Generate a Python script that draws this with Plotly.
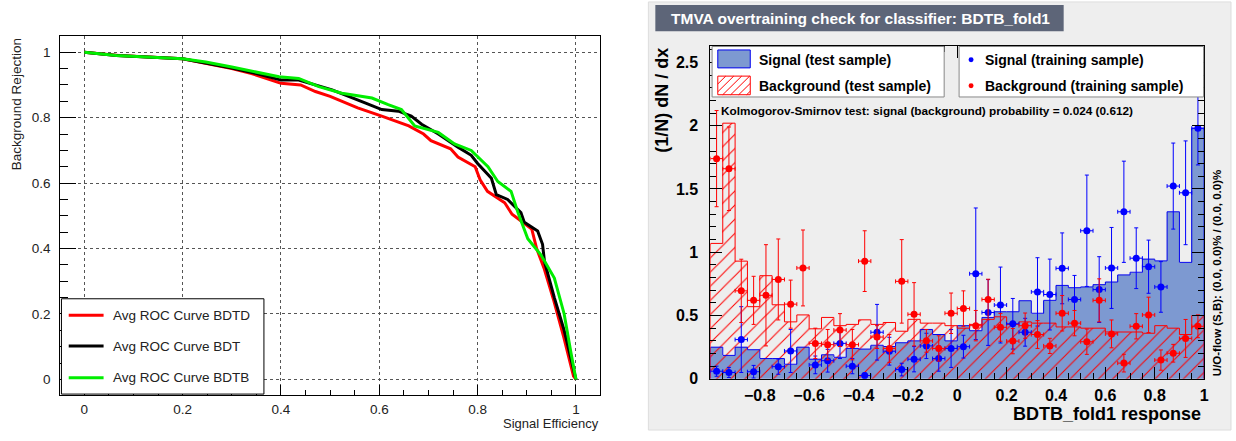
import plotly.graph_objects as go
import numpy as np

W, H = 1236, 441
def px(x): return x / W
def py(y): return 1 - y / H

FONT = "Liberation Sans"

# ---------------- ROC curves (left panel) ----------------
bdtd_eff = [0, 0.07, 0.2, 0.25, 0.3, 0.34, 0.4, 0.44, 0.47, 0.50, 0.556, 0.605, 0.66, 0.69, 0.705,
            0.745, 0.76, 0.795, 0.805, 0.82, 0.855, 0.87, 0.91, 0.92, 0.935, 0.955, 0.975, 0.995, 1.0]
bdtd_rej = [1, 0.99, 0.98, 0.965, 0.95, 0.935, 0.905, 0.9, 0.88, 0.865, 0.83, 0.805, 0.775, 0.75, 0.73,
            0.705, 0.68, 0.65, 0.61, 0.575, 0.54, 0.505, 0.46, 0.40, 0.34, 0.24, 0.13, 0.01, 0]

bdt_eff = [0, 0.065, 0.2, 0.25, 0.3, 0.35, 0.4, 0.436, 0.504, 0.571, 0.605, 0.639, 0.665, 0.686, 0.72,
           0.76, 0.787, 0.80, 0.828, 0.838, 0.861, 0.888, 0.895, 0.922, 0.932, 0.936, 0.956, 0.976, 0.996, 1.0]
bdt_rej = [1, 0.99, 0.98, 0.967, 0.952, 0.935, 0.915, 0.915, 0.885, 0.845, 0.825, 0.82, 0.805, 0.78, 0.75,
           0.71, 0.685, 0.66, 0.615, 0.565, 0.55, 0.51, 0.48, 0.454, 0.413, 0.36, 0.25, 0.15, 0.02, 0]

bdtb_eff = [0, 0.065, 0.2, 0.247, 0.30, 0.348, 0.396, 0.436, 0.477, 0.524, 0.585, 0.618, 0.645, 0.672,
            0.72, 0.753, 0.787, 0.821, 0.841, 0.868, 0.882, 0.902, 0.929, 0.956, 0.976, 0.99, 1.0]
bdtb_rej = [1, 0.99, 0.98, 0.97, 0.955, 0.94, 0.925, 0.92, 0.895, 0.875, 0.86, 0.84, 0.825, 0.775,
            0.755, 0.72, 0.70, 0.65, 0.605, 0.575, 0.51, 0.43, 0.38, 0.31, 0.20, 0.08, 0]

roc_names = ["Avg ROC Curve BDTD", "Avg ROC Curve BDT", "Avg ROC Curve BDTB"]
roc_colors = ["#ff0000", "#000000", "#00ee00"]

# ---------------- Overtraining histograms (right panel) ----------------
bin_edges = [round(-1 + 0.05 * i, 3) for i in range(41)]
sig_test = [0.25, 0.185, 0.25, 0.23, 0.16, 0.16, 0.115, 0.25, 0.155, 0.19,
            0.17, 0.24, 0.235, 0.265, 0.255, 0.285, 0.30, 0.39, 0.35, 0.30,
            0.42, 0.38, 0.485, 0.53, 0.53, 0.617, 0.518, 0.62, 0.738, 0.72,
            0.726, 0.744, 0.765, 0.821, 0.842, 0.946, 0.932, 1.32, 0.92, 1.98]
bkg_test = [1.07, 2.02, 0.93, 0.57, 0.815, 0.585, 0.45, 0.505, 0.395, 0.485,
            0.42, 0.43, 0.466, 0.43, 0.445, 0.376, 0.47, 0.44, 0.44, 0.42,
            0.40, 0.43, 0.47, 0.49, 0.43, 0.45, 0.44, 0.44, 0.41, 0.41,
            0.40, 0.40, 0.37, 0.37, 0.37, 0.36, 0.42, 0.40, 0.35, 0.50]
sig_train = [0.06, 0.05, 0.31, 0.056, None, 0.096, 0.22, None, 0.11, 0.143,
             0.28, 0.10, 0.026, 0.368, 0.218, 0.073, 0.155, 0.26, 0.16, 0.24,
             0.254, 0.83, 0.524, 0.583, 0.435, 0.368, 0.687, 0.666, 0.873, 0.627,
             1.17, 0.705, 0.876, 1.32, 0.953, 0.886, 0.726, 1.523, 1.47, 1.98]
sig_train_err = [0.04, 0.04, 0.26, 0.05, 0, 0.06, 0.17, 0, 0.07, 0.09,
                 0.12, 0.06, 0.02, 0.22, 0.11, 0.05, 0.10, 0.10, 0.10, 0.15,
                 0.09, 0.52, 0.26, 0.30, 0.20, 0.11, 0.27, 0.28, 0.28, 0.19,
                 0.44, 0.26, 0.32, 0.40, 0.24, 0.21, 0.20, 0.34, 0.41, 0.29]
bkg_train = [1.74, 1.66, 0.695, 0.62, 0.66, 0.785, 0.59, 0.876, 0.28, 0.27,
             0.385, 0.27, 0.93, 0.33, 0.24, 0.77, 0.51, 0.30, 0.24, 0.518,
             0.555, 0.42, 0.627, 0.407, 0.298, 0.42, 0.35, 0.26, 0.518, 0.44,
             0.293, 0.62, 0.355, 0.124, 0.415, 0.505, 0.148, 0.202, 0.319, 0.415]
bkg_train_err = [0.38, 0.33, 0.25, 0.19, 0.40, 0.32, 0.19, 0.30, 0.12, 0.12,
                 0.13, 0.12, 0.24, 0.09, 0.11, 0.33, 0.25, 0.09, 0.10, 0.16,
                 0.14, 0.12, 0.16, 0.11, 0.10, 0.10, 0.11, 0.06, 0.14, 0.10,
                 0.10, 0.17, 0.11, 0.07, 0.10, 0.14, 0.08, 0.07, 0.15, 0.09]

x_tick_vals = [-0.8, -0.6, -0.4, -0.2, 0, 0.2, 0.4, 0.6, 0.8, 1]
x_tick_text = ["\u22120.8", "\u22120.6", "\u22120.4", "\u22120.2", "0", "0.2", "0.4", "0.6", "0.8", "1"]
y_tick_vals = [0, 0.5, 1, 1.5, 2, 2.5]
y_tick_text = ["0", "0.5", "1", "1.5", "2", "2.5"]

edges = np.array(bin_edges)
centers = (edges[:-1] + edges[1:]) / 2
widths = np.diff(edges)

SIG_FILL = "#7d99d1"
SIG_LINE = "#0000ee"
BKG = "#ff0000"

fig = go.Figure()

# ROC traces
for xs, ys, c in [(bdtd_eff, bdtd_rej, roc_colors[0]), (bdt_eff, bdt_rej, roc_colors[1]),
                  (bdtb_eff, bdtb_rej, roc_colors[2])]:
    fig.add_trace(go.Scatter(x=xs, y=ys, mode="lines", line=dict(color=c, width=3),
                             xaxis="x", yaxis="y", showlegend=False, hoverinfo="skip"))

# Signal test histogram
fig.add_trace(go.Bar(x=centers, y=sig_test, width=widths, marker=dict(color=SIG_FILL, line=dict(width=0)),
                     xaxis="x2", yaxis="y2", showlegend=False))
step_x = [bin_edges[0]] + bin_edges[:-1] + [bin_edges[-1]]
fig.add_trace(go.Scatter(x=step_x, y=[0] + sig_test + [0], mode="lines", line=dict(color=SIG_LINE, width=1, shape="hv"),
                         xaxis="x2", yaxis="y2", showlegend=False))
# Background test histogram (hatched)
fig.add_trace(go.Bar(x=centers, y=bkg_test, width=widths,
                     marker=dict(color="rgba(0,0,0,0)", line=dict(width=0),
                                 pattern=dict(shape="/", size=10, solidity=0.1, fgcolor=BKG,
                                              bgcolor="rgba(0,0,0,0)", fillmode="overlay", fgopacity=1)),
                     xaxis="x2", yaxis="y2", showlegend=False))
fig.add_trace(go.Scatter(x=step_x, y=[0] + bkg_test + [0], mode="lines", line=dict(color=BKG, width=1, shape="hv"),
                         xaxis="x2", yaxis="y2", showlegend=False))

# Training points
def pts(vals, errs):
    xs, ys, es = [], [], []
    for c, v, e in zip(centers, vals, errs):
        if v is None:
            continue
        xs.append(c); ys.append(v); es.append(e)
    return xs, ys, es

for vals, errs, col in [(sig_train, sig_train_err, "#0000ff"), (bkg_train, bkg_train_err, BKG)]:
    xs, ys, es = pts(vals, errs)
    fig.add_trace(go.Scatter(x=xs, y=ys, mode="markers", marker=dict(color=col, size=7),
                             error_y=dict(type="data", array=es, color=col, thickness=1, width=2),
                             error_x=dict(type="constant", value=0.025, color=col, thickness=1, width=2),
                             xaxis="x2", yaxis="y2", showlegend=False))

shapes = []
annotations = []

# right panel grey background
shapes.append(dict(type="rect", xref="paper", yref="paper", x0=px(651), x1=px(1236), y0=py(439), y1=py(2),
                   fillcolor="#eeeeee", line=dict(color="#dddddd", width=1), layer="below"))
# title box
shapes.append(dict(type="rect", xref="paper", yref="paper", x0=px(658), x1=px(1068), y0=py(32), y1=py(5),
                   fillcolor="#5d6578", line=dict(width=0), layer="above"))
annotations.append(dict(text="<b>TMVA overtraining check for classifier: BDTB_fold1</b>", x=px(672), y=py(18.5),
                        xref="paper", yref="paper", xanchor="left", yanchor="middle", showarrow=False,
                        font=dict(family=FONT, size=15.5, color="white")))

# left legend
shapes.append(dict(type="rect", xref="paper", yref="paper", x0=px(61.7), x1=px(265), y0=py(402.3), y1=py(305),
                   fillcolor="white", line=dict(color="black", width=1), layer="above"))
for i, (name, c) in enumerate(zip(roc_names, roc_colors)):
    yy = [321.7, 353.3, 385.7][i]
    shapes.append(dict(type="line", xref="paper", yref="paper", x0=px(69), x1=px(104), y0=py(yy), y1=py(yy),
                       line=dict(color=c, width=3), layer="above"))
    annotations.append(dict(text=name, x=px(111.5), y=py(yy), xref="paper", yref="paper", xanchor="left",
                            yanchor="middle", showarrow=False, font=dict(family=FONT, size=13.5, color="#222")))

# left axis titles
annotations.append(dict(text="Background Rejection", x=px(16), y=py(37), xref="paper", yref="paper",
                        xanchor="center", yanchor="top", textangle=-90, showarrow=False,
                        font=dict(family=FONT, size=13.5, color="#222")))
annotations.append(dict(text="Signal Efficiency", x=px(602), y=py(441), xref="paper", yref="paper",
                        xanchor="right", yanchor="bottom", showarrow=False, borderpad=0,
                        font=dict(family=FONT, size=13, color="#222")))

# right legends
shapes.append(dict(type="rect", xref="paper", yref="paper", x0=px(715), x1=px(948), y0=py(99), y1=py(47.5),
                   fillcolor="white", line=dict(color="#888888", width=1), layer="above"))
shapes.append(dict(type="rect", xref="paper", yref="paper", x0=px(963), x1=px(1208.5), y0=py(99), y1=py(47.5),
                   fillcolor="white", line=dict(color="#888888", width=1), layer="above"))
# signal test symbol
shapes.append(dict(type="rect", xref="paper", yref="paper", x0=px(720.7), x1=px(753.3), y0=py(69.3), y1=py(51),
                   fillcolor=SIG_FILL, line=dict(color=SIG_LINE, width=1), layer="above"))
# background test symbol (hatched)
L, R, T, B = 720.7, 753.3, 77.7, 96.7
shapes.append(dict(type="rect", xref="paper", yref="paper", x0=px(L), x1=px(R), y0=py(B), y1=py(T),
                   fillcolor="white", line=dict(color=BKG, width=1), layer="above"))
hgt = B - T
for x0 in np.arange(L - hgt, R, 8.0):
    t0 = max(0.0, L - x0)
    t1 = min(hgt, R - x0)
    if t1 > t0:
        shapes.append(dict(type="line", xref="paper", yref="paper", x0=px(x0 + t0), y0=py(B - t0),
                           x1=px(x0 + t1), y1=py(B - t1), line=dict(color=BKG, width=1), layer="above"))

leg_font = dict(family=FONT, size=14, color="black")
annotations.append(dict(text="<b>Signal (test sample)</b>", x=px(760), y=py(61), xref="paper", yref="paper",
                        xanchor="left", yanchor="middle", showarrow=False, font=leg_font))
annotations.append(dict(text="<b>Background (test sample)</b>", x=px(760), y=py(87.5), xref="paper", yref="paper",
                        xanchor="left", yanchor="middle", showarrow=False, font=leg_font))
annotations.append(dict(text="<b>Signal (training sample)</b>", x=px(987), y=py(61), xref="paper", yref="paper",
                        xanchor="left", yanchor="middle", showarrow=False, font=leg_font))
annotations.append(dict(text="<b>Background (training sample)</b>", x=px(987), y=py(87.5), xref="paper", yref="paper",
                        xanchor="left", yanchor="middle", showarrow=False, font=leg_font))
for yy, c in [(61, "#0000ff"), (87.5, BKG)]:
    shapes.append(dict(type="circle", xref="paper", yref="paper", x0=px(972.5), x1=px(977.5), y0=py(yy + 2.5),
                       y1=py(yy - 2.5), fillcolor=c, line=dict(color=c, width=0), layer="above"))

annotations.append(dict(text="<b>Kolmogorov-Smirnov test: signal (background) probability = 0.024 (0.612)</b>",
                        x=px(722), y=py(113), xref="paper", yref="paper", xanchor="left", yanchor="middle",
                        showarrow=False, font=dict(family=FONT, size=11.8, color="black")))
annotations.append(dict(text="<b>(1/N) dN / dx</b>", x=px(664), y=py(47), xref="paper", yref="paper",
                        xanchor="center", yanchor="top", textangle=-90, showarrow=False,
                        font=dict(family=FONT, size=18, color="black")))
annotations.append(dict(text="<b>BDTB_fold1 response</b>", x=px(1208), y=py(423), xref="paper", yref="paper",
                        xanchor="right", yanchor="middle", showarrow=False,
                        font=dict(family=FONT, size=18, color="black")))
annotations.append(dict(text="<b>U/O-flow (S,B): (0.0, 0.0)% / (0.0, 0.0)%</b>", x=px(1222), y=py(386),
                        xref="paper", yref="paper", xanchor="center", yanchor="bottom", textangle=-90,
                        showarrow=False, font=dict(family=FONT, size=11.5, color="black")))

tick_black = dict(family=FONT, size=13.5, color="#222")
tick_bold = dict(family=FONT, size=16, color="black", weight="bold")

fig.update_layout(
    width=W, height=H, margin=dict(l=0, r=0, t=0, b=0),
    paper_bgcolor="white", plot_bgcolor="white",
    barmode="overlay", bargap=0, showlegend=False,
    shapes=shapes, annotations=annotations,
    xaxis=dict(domain=[px(60.5), px(602)], range=[-0.049, 1.048], anchor="y",
               tickmode="array", tickvals=[0, 0.2, 0.4, 0.6, 0.8, 1], ticktext=["0", "0.2", "0.4", "0.6", "0.8", "1"],
               ticks="inside", ticklen=10, tickcolor="black", tickwidth=1,
               minor=dict(tickmode="linear", tick0=0, dtick=0.05, ticks="inside", ticklen=5, tickcolor="black", showgrid=False),
               showgrid=True, gridcolor="#555555", griddash="dot", gridwidth=1, zeroline=False,
               showline=True, mirror=True, linecolor="black", linewidth=1, tickfont=tick_black,
               ticklabelstandoff=2),
    yaxis=dict(domain=[py(403), py(37)], range=[-0.047, 1.049], anchor="x",
               tickmode="array", tickvals=[0, 0.2, 0.4, 0.6, 0.8, 1], ticktext=["0", "0.2", "0.4", "0.6", "0.8", "1"],
               ticks="inside", ticklen=16, tickcolor="black", tickwidth=1,
               minor=dict(tickmode="linear", tick0=0, dtick=0.05, ticks="inside", ticklen=8, tickcolor="black", showgrid=False),
               showgrid=True, gridcolor="#555555", griddash="dot", gridwidth=1, zeroline=False,
               showline=True, mirror=True, linecolor="black", linewidth=1, tickfont=tick_black,
               ticklabelstandoff=6),
    xaxis2=dict(domain=[px(713.3), px(1209)], range=[-1, 1], anchor="y2",
                tickmode="array", tickvals=x_tick_vals, ticktext=x_tick_text,
                ticks="inside", ticklen=12, tickcolor="black", tickwidth=1,
                minor=dict(tickmode="linear", tick0=0, dtick=0.05, ticks="inside", ticklen=6, tickcolor="black", showgrid=False),
                showgrid=False, zeroline=False, showline=True, mirror="allticks", linecolor="black", linewidth=1,
                tickfont=tick_bold, ticklabelstandoff=2),
    yaxis2=dict(domain=[py(386.7), py(46.7)], range=[0, 2.632], anchor="x2",
                tickmode="array", tickvals=y_tick_vals, ticktext=y_tick_text,
                ticks="inside", ticklen=12, tickcolor="black", tickwidth=1,
                minor=dict(tickmode="linear", tick0=0, dtick=0.1, ticks="inside", ticklen=6, tickcolor="black", showgrid=False),
                showgrid=False, zeroline=False, showline=True, mirror="allticks", linecolor="black", linewidth=1,
                tickfont=tick_bold, ticklabelstandoff=8),
)

fig.write_html("out.html")
